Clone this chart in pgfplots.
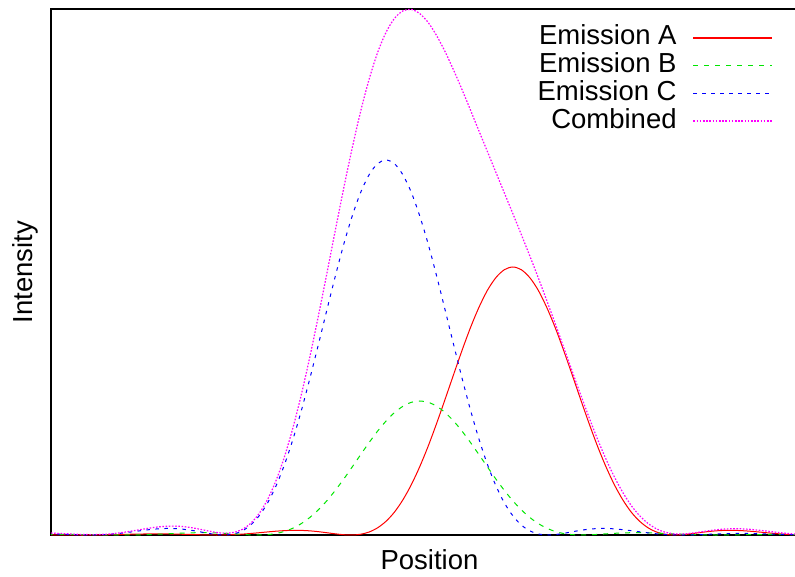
\documentclass[border=0pt]{standalone}
\usepackage{fontspec}
\setmainfont{Liberation Sans}
\usepackage{pgfplots}
\usepackage{pgfplotstable}
\pgfplotsset{compat=1.18}

\definecolor{gpred}{RGB}{255,0,0}
\definecolor{gpgreen}{RGB}{0,230,0}
\definecolor{gpblue}{RGB}{0,0,255}
\definecolor{gpmagenta}{RGB}{255,0,255}

% Airy-type emission profiles and their sum
\pgfplotstableread{
p A B C S
-8.0 0.28 0.48 1.29 2.05
-7.8 0.18 0.54 1.00 1.72
-7.6 0.10 0.56 0.66 1.32
-7.4 0.03 0.53 0.33 0.89
-7.2 0.00 0.46 0.09 0.55
-7.0 0.02 0.36 0.00 0.38
-6.8 0.10 0.24 0.14 0.48
-6.6 0.23 0.12 0.54 0.89
-6.4 0.40 0.03 1.21 1.64
-6.2 0.60 0.00 2.12 2.72
-6.0 0.80 0.05 3.19 4.04
-5.8 0.96 0.19 4.31 5.46
-5.6 1.08 0.43 5.34 6.85
-5.4 1.11 0.76 6.14 8.01
-5.2 1.06 1.14 6.53 8.73
-5.0 0.92 1.54 6.44 8.90
-4.8 0.72 1.91 5.80 8.43
-4.6 0.47 2.19 4.67 7.33
-4.4 0.24 2.33 3.19 5.76
-4.2 0.06 2.30 1.64 4.00
-4.0 0.00 2.07 0.41 2.48
-3.8 0.10 1.67 0.02 1.79
-3.6 0.38 1.14 1.05 2.57
-3.4 0.86 0.58 4.16 5.60
-3.2 1.51 0.15 10.0 11.66
-3.0 2.28 0.01 19.2 21.49
-2.8 3.08 0.38 32.1 35.56
-2.6 3.82 1.49 49.2 54.51
-2.4 4.38 3.58 70.5 78.46
-2.2 4.67 6.85 95.8 107.32
-2.0 4.60 11.5 124.7 140.8
-1.8 4.15 17.6 156.6 178.35
-1.6 3.34 25.2 190.3 218.84
-1.4 2.28 34.2 224.7 261.18
-1.2 1.17 44.6 258.6 304.37
-1.0 0.29 55.9 290.6 346.79
-0.8 0.01 68.0 318.8 386.81
-0.6 0.75 80.3 342.5 423.55
-0.4 2.97 92.4 360.2 455.57
-0.2 7.16 103.8 371.3 482.26
0.0 13.7 113.9 375.0 502.6
0.2 22.9 122.4 371.3 516.6
0.4 35.2 128.7 360.2 524.1
0.6 50.4 132.7 342.5 525.6
0.8 68.5 134.0 318.8 521.3
1.0 89.1 132.7 290.6 512.4
1.2 111.9 128.7 258.6 499.2
1.4 136.0 122.4 224.7 483.1
1.6 160.6 113.9 190.3 464.8
1.8 184.8 103.8 156.6 445.2
2.0 207.6 92.4 124.7 424.7
2.2 227.8 80.3 95.8 403.9
2.4 244.8 68.0 70.5 383.3
2.6 257.4 55.9 49.2 362.5
2.8 265.3 44.6 32.1 342.0
3.0 268.0 34.2 19.2 321.4
3.2 265.3 25.2 10.0 300.5
3.4 257.4 17.6 4.16 279.16
3.6 244.8 11.5 1.05 257.35
3.8 227.8 6.85 0.02 234.67
4.0 207.6 3.58 0.41 211.59
4.2 184.8 1.49 1.64 187.93
4.4 160.6 0.38 3.19 164.17
4.6 136.0 0.01 4.67 140.68
4.8 111.9 0.15 5.80 117.85
5.0 89.1 0.58 6.44 96.12
5.2 68.5 1.14 6.53 76.17
5.4 50.4 1.67 6.14 58.21
5.6 35.2 2.07 5.34 42.61
5.8 22.9 2.30 4.31 29.51
6.0 13.7 2.33 3.19 19.22
6.2 7.16 2.19 2.12 11.47
6.4 2.97 1.91 1.21 6.09
6.6 0.75 1.54 0.54 2.83
6.8 0.01 1.14 0.14 1.29
7.0 0.29 0.76 0.00 1.05
7.2 1.17 0.43 0.09 1.69
7.4 2.28 0.19 0.33 2.80
7.6 3.34 0.05 0.66 4.05
7.8 4.15 0.00 1.00 5.15
8.0 4.60 0.03 1.29 5.92
8.2 4.67 0.12 1.49 6.28
8.4 4.38 0.24 1.56 6.18
8.6 3.82 0.36 1.51 5.69
8.8 3.08 0.46 1.35 4.89
9.0 2.28 0.53 1.11 3.92
9.2 1.51 0.56 0.84 2.91
9.4 0.86 0.54 0.56 1.96
9.6 0.38 0.48 0.32 1.18
9.8 0.10 0.40 0.14 0.64
10.0 0.00 0.30 0.03 0.33
}\emission

\begin{document}
\begin{tikzpicture}[font=\fontsize{27.5}{33}\selectfont]
\begin{axis}[
  at={(51pt,41pt)}, anchor=south west,
  scale only axis, width=757pt, height=526pt,
  xmin=-7.923, xmax=9.981, ymin=0, ymax=526,
  xtick=\empty, ytick=\empty,
  axis line style={line width=1.5pt},
  xlabel={Position}, ylabel={Intensity},
  label style={font=\fontsize{27.5}{33}\selectfont},
  xlabel style={at={(axis description cs:0.5,-0.0665)}, anchor=base},
  ylabel style={at={(axis description cs:-0.0238,0.5)}, anchor=base},
  legend cell align=right, legend plot pos=right,
  legend image code/.code={\draw[#1, line width=1.4pt] (0pt,1pt) -- (79pt,1pt);},
  legend style={draw=none, fill=none, font=\fontsize{27.5}{33}\selectfont,
    at={(axis description cs:0.9538,0.9696)}, anchor=north east,
    inner sep=0pt, outer sep=0pt, row sep=0pt, column sep=16pt,
    nodes={inner sep=0pt, text height=20pt, text depth=7.7pt}},
]
\addplot[gpred, line width=1pt, smooth] table[x=p, y=A] {\emission};
\addlegendentry{Emission A}
\addplot[gpgreen, line width=1pt, smooth, dash pattern=on 5pt off 6pt] table[x=p, y=B] {\emission};
\addlegendentry{Emission B}
\addplot[gpblue, line width=1pt, smooth, dash pattern=on 3.5pt off 5.5pt] table[x=p, y=C] {\emission};
\addlegendentry{Emission C}
\addplot[gpmagenta, line width=1.2pt, smooth, dash pattern=on 1.6pt off 1.6pt] table[x=p, y=S] {\emission};
\addlegendentry{Combined}
\end{axis}
\pgfresetboundingbox
\path[use as bounding box] (0,0) rectangle (795pt,576pt);
\end{tikzpicture}
\end{document}
